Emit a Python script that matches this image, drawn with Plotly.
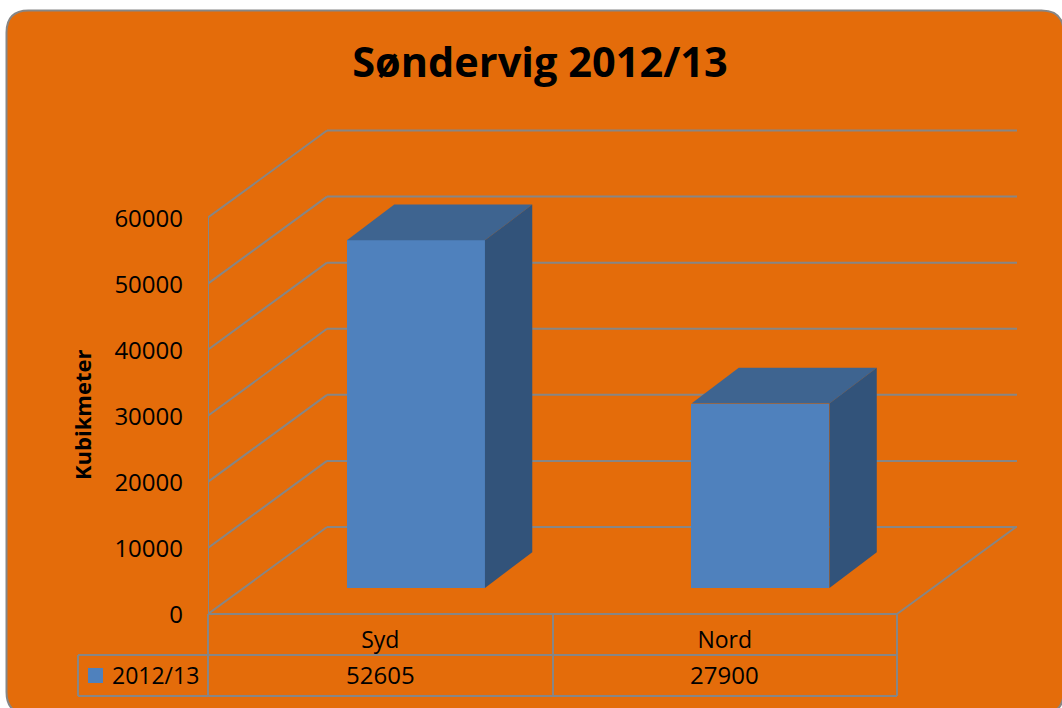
import plotly.graph_objects as go

# ---- data ----
categories = ["Syd", "Nord"]
series_name = "2012/13"
values = [52605, 27900]
value_ticks = [0, 10000, 20000, 30000, 40000, 50000, 60000]
chart_title = "Søndervig 2012/13"
axis_title = "Kubikmeter"

# ---- style ----
W, H = 1062, 708
L, R, T, B = 208, 45, 120, 90
ZERO_PX = 614              # pixel row of value 0
FONT = "Open Sans"
ORANGE, GREY = "#E46C0A", "#868686"
FRONT, TOP_FACE, SIDE = "#4F81BD", "#3E6490", "#32537A"
LW = 2

PX_PER_CAT = 344.5
PX_PER_VAL = 396.5 / 60000
PLOT_W, PLOT_H = W - L - R, H - T - B
x_lo = -0.5
x_hi = x_lo + PLOT_W / PX_PER_CAT
y_lo = -(H - B - ZERO_PX) / PX_PER_VAL
y_hi = (ZERO_PX - T) / PX_PER_VAL

# oblique projection: full chart depth, in axis units
DX = 119 / PX_PER_CAT
DY = 87 / PX_PER_VAL
BAR_WIDTH = 138 / PX_PER_CAT
D0, D1 = 0.30, 0.71        # bar front / back as fraction of depth
SHEAR = 0.97               # x-run of the bar's side slightly less than its y-run


def ppx(px):
    return (px - L) / PLOT_W


def ppy(py):
    return (H - B - py) / PLOT_H


shapes = []

# card
cl, ct, cr, cb, rad = 6.5, 10.5, 1063.5, 714, 22
card = (
    f"M {ppx(cl)} {ppy(ct + rad)} Q {ppx(cl)} {ppy(ct)} {ppx(cl + rad)} {ppy(ct)} "
    f"L {ppx(cr - rad)} {ppy(ct)} Q {ppx(cr)} {ppy(ct)} {ppx(cr)} {ppy(ct + rad)} "
    f"L {ppx(cr)} {ppy(cb - rad)} Q {ppx(cr)} {ppy(cb)} {ppx(cr - rad)} {ppy(cb)} "
    f"L {ppx(cl + rad)} {ppy(cb)} Q {ppx(cl)} {ppy(cb)} {ppx(cl)} {ppy(cb - rad)} Z"
)
shapes.append(dict(type="path", path=card, xref="paper", yref="paper", layer="below",
                   fillcolor=ORANGE, line=dict(color=GREY, width=LW)))


def seg(x0, y0, x1, y1, xref="x", yref="y"):
    shapes.append(dict(type="line", x0=x0, y0=y0, x1=x1, y1=y1, xref=xref, yref=yref,
                       layer="below", line=dict(color=GREY, width=LW)))


# walls: diagonal + back horizontal for each gridline
for v in value_ticks:
    seg(x_lo, v, x_lo + DX, v + DY)
    seg(x_lo + DX, v + DY, x_hi, v + DY)
# floor
seg(x_lo, 0, 1.5, 0)
seg(1.5, 0, 1.5 + DX, DY)
# front wall vertical
seg(x_lo, 0, x_lo, value_ticks[-1])

# data table
for x in (208, 553, 897):
    seg(ppx(x), ppy(614), ppx(x), ppy(696), "paper", "paper")
seg(ppx(78), ppy(655), ppx(78), ppy(696), "paper", "paper")
seg(ppx(78), ppy(655), ppx(897), ppy(655), "paper", "paper")
seg(ppx(78), ppy(696), ppx(897), ppy(696), "paper", "paper")
# legend key
shapes.append(dict(type="rect", xref="paper", yref="paper", layer="above",
                   x0=ppx(88), x1=ppx(103), y0=ppy(683), y1=ppy(668),
                   fillcolor=FRONT, line=dict(width=0)))

fig = go.Figure()

# front faces
base_val = D0 * DY
xs = list(range(len(categories)))
front_x = [i + D0 * DX for i in xs]
fig.add_trace(go.Bar(
    x=front_x, y=values, base=[base_val] * len(values), width=BAR_WIDTH,
    marker=dict(color=FRONT, line=dict(width=0)), name=series_name, showlegend=False,
))

# top and side faces
run_x = (D1 - D0) * DX * SHEAR
run_y = (D1 - D0) * DY
for fx, v in zip(front_x, values):
    left, right = fx - BAR_WIDTH / 2, fx + BAR_WIDTH / 2
    top = base_val + v
    fig.add_trace(go.Scatter(
        x=[left, right, right + run_x, left + run_x, left],
        y=[top, top, top + run_y, top + run_y, top],
        fill="toself", fillcolor=TOP_FACE, mode="lines", line=dict(width=0),
        showlegend=False, hoverinfo="skip",
    ))
    fig.add_trace(go.Scatter(
        x=[right, right + run_x, right + run_x, right, right],
        y=[base_val, base_val + run_y, top + run_y, top, base_val],
        fill="toself", fillcolor=SIDE, mode="lines", line=dict(width=0),
        showlegend=False, hoverinfo="skip",
    ))

annotations = [
    dict(text=axis_title, xref="paper", yref="paper", x=ppx(82), y=ppy(415), textangle=-90,
         showarrow=False, font=dict(family=FONT, size=22, color="black", weight="bold"),
         xanchor="center", yanchor="middle"),
    dict(text=series_name, xref="paper", yref="paper", x=ppx(155), y=ppy(674.5),
         showarrow=False, font=dict(family=FONT, size=23, color="black"),
         xanchor="center", yanchor="middle"),
]
for i, v in zip(xs, values):
    annotations.append(dict(text=str(v), xref="x", x=i, yref="paper", y=ppy(674.5),
                            showarrow=False, font=dict(family=FONT, size=24, color="black"),
                            xanchor="center", yanchor="middle"))

fig.update_layout(
    width=W, height=H, autosize=False,
    margin=dict(l=L, r=R, t=T, b=B, pad=0),
    paper_bgcolor="white", plot_bgcolor="rgba(0,0,0,0)",
    font=dict(family=FONT, size=23, color="black"),
    title=dict(text=chart_title, xref="container", yref="container",
               x=540 / W, xanchor="center", y=1 - 62 / H, yanchor="middle",
               font=dict(family=FONT, size=41.5, color="black", weight="bold")),
    xaxis=dict(range=[x_lo, x_hi], tickvals=xs, ticktext=categories, showgrid=False,
               zeroline=False, showline=False, ticks="", ticklabelstandoff=6,
               tickfont=dict(family=FONT, size=23, color="black")),
    yaxis=dict(range=[y_lo, y_hi], tickvals=value_ticks, tickformat="d", showgrid=False,
               zeroline=False, showline=False, ticks="", ticklabelstandoff=24,
               ticklabelshift=1,
               tickfont=dict(family=FONT, size=24, color="black")),
    shapes=shapes, annotations=annotations, showlegend=False, bargap=0,
)

fig.write_html("out.html", post_script="document.body.style.margin='0';document.body.style.overflow='hidden';",
               config={"displayModeBar": False})
